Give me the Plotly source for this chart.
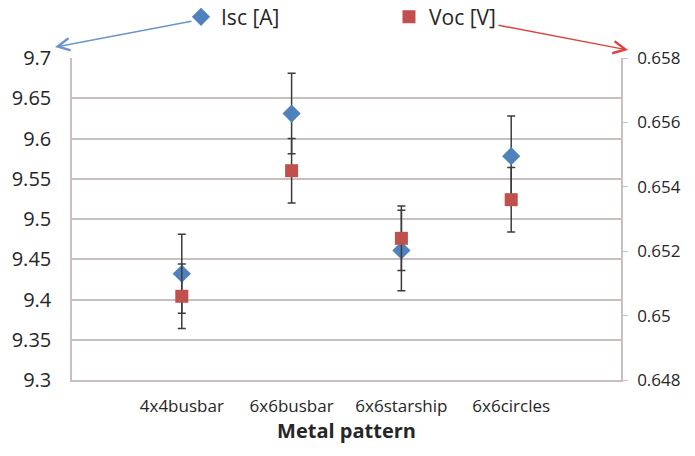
import plotly.graph_objects as go

categories = ["4x4busbar", "6x6busbar", "6x6starship", "6x6circles"]
isc = [9.432, 9.631, 9.461, 9.578]
isc_err = [0.049, 0.050, 0.050, 0.050]
voc = [0.6506, 0.6545, 0.6524, 0.6536]
voc_err = [0.0010, 0.0010, 0.0010, 0.0010]

left_ticks = [9.3, 9.35, 9.4, 9.45, 9.5, 9.55, 9.6, 9.65, 9.7]
left_text = ["9.3", "9.35", "9.4", "9.45", "9.5", "9.55", "9.6", "9.65", "9.7"]
right_ticks = [0.648, 0.650, 0.652, 0.654, 0.656, 0.658]
right_text = ["0.648", "0.65", "0.652", "0.654", "0.656", "0.658"]

BLUE = "#4f81bd"
RED = "#c0504d"
GRID = "#c9bfbf"
ERR = "#3c3c3c"
FONT = "Open Sans"
TXT = "#262626"

fig = go.Figure()
fig.add_trace(go.Scatter(
    x=categories, y=isc, name="Isc [A]", mode="markers",
    marker=dict(symbol="diamond", size=14, color=BLUE),
    error_y=dict(type="data", array=isc_err, color=ERR, thickness=1.5, width=4),
    yaxis="y", legend="legend",
))
fig.add_trace(go.Scatter(
    x=categories, y=voc, name="Voc [V]", mode="markers",
    marker=dict(symbol="square", size=13, color=RED),
    error_y=dict(type="data", array=voc_err, color=ERR, thickness=1.5, width=4),
    yaxis="y2", legend="legend2",
))

leg_common = dict(orientation="h", xref="container", yref="container",
                  xanchor="left", yanchor="middle",
                  font=dict(size=21, family=FONT, color=TXT), bgcolor="rgba(0,0,0,0)",
                  itemwidth=30)

fig.update_layout(
    template="none",
    width=679, height=436,
    margin=dict(l=64, r=66, t=50, b=64, autoexpand=False),
    paper_bgcolor="white", plot_bgcolor="white",
    font=dict(family=FONT, color=TXT),
    showlegend=True,
    legend=dict(x=0.2548, y=0.979, **leg_common),
    legend2=dict(x=0.5611, y=0.979, **leg_common),
    xaxis=dict(
        type="category", range=[-1, 4], showgrid=False, automargin=False,
        showline=True, linecolor=GRID, linewidth=1.5, mirror=False,
        ticks="", ticklabelstandoff=10, tickfont=dict(size=17, family=FONT, color=TXT),
        title=dict(text="<b>Metal pattern</b>", font=dict(size=20, family=FONT, color=TXT), standoff=12),
    ),
    yaxis=dict(
        range=[9.3, 9.7], tickvals=left_ticks, ticktext=left_text, automargin=False,
        showgrid=True, gridcolor=GRID, gridwidth=1.5,
        showline=True, linecolor=GRID, linewidth=1.5,
        ticks="", ticklabelstandoff=15, zeroline=False,
        tickfont=dict(size=20, family=FONT, color=TXT),
    ),
    yaxis2=dict(
        range=[0.648, 0.658], tickvals=right_ticks, ticktext=right_text, automargin=False,
        overlaying="y", side="right", showgrid=False,
        showline=True, linecolor=GRID, linewidth=1.5,
        ticks="outside", ticklen=5, tickcolor=GRID, ticklabelstandoff=6, zeroline=False,
        tickfont=dict(size=17, family=FONT, color=TXT),
    ),
)

fig.add_annotation(xref="paper", yref="paper", x=-0.031, y=1.034, ax=138, ay=-26,
                   axref="pixel", ayref="pixel", text="", showarrow=True,
                   arrowhead=5, arrowsize=1.6, arrowwidth=1.5, arrowcolor="#6b95cc")
fig.add_annotation(xref="paper", yref="paper", x=1.0128, y=1.0248, ax=-131, ay=-25,
                   axref="pixel", ayref="pixel", text="", showarrow=True,
                   arrowhead=5, arrowsize=1.6, arrowwidth=1.5, arrowcolor="#e0413a")

fig.write_html("out.html")
